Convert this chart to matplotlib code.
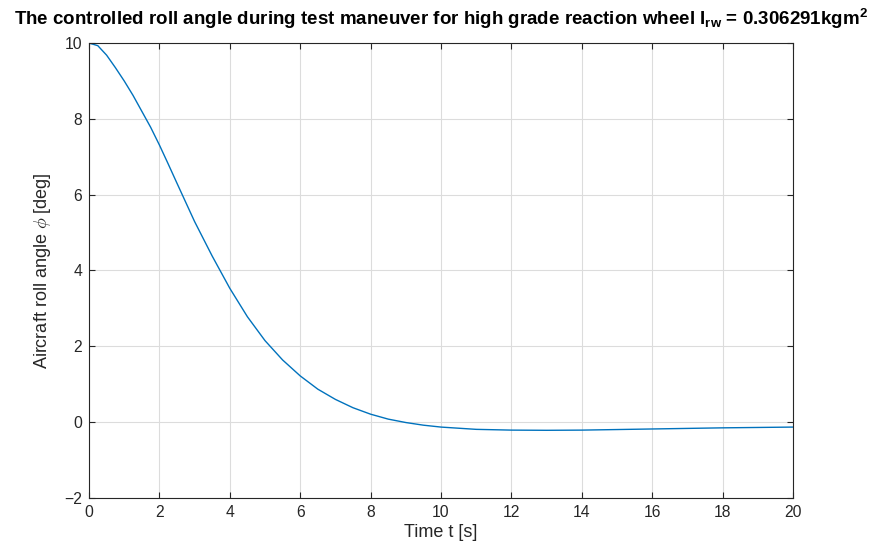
import matplotlib
matplotlib.use("Agg")
import matplotlib.pyplot as plt

plt.rcParams['font.family'] = ['Liberation Sans', 'DejaVu Sans']
plt.rcParams['mathtext.default'] = 'regular'

# Roll angle response (deg) sampled over time (s)
time_s = [0, 0.25, 0.5, 0.75, 1, 1.25, 1.5, 1.75, 2, 2.25, 2.5, 3, 3.5, 4,
          4.5, 5, 5.5, 6, 6.5, 7, 7.5, 8, 8.5, 9, 9.5, 10, 11, 12, 13, 14,
          15, 16, 17, 18, 19, 20]
roll_deg = [10.0, 9.93, 9.68, 9.35, 9.0, 8.62, 8.2, 7.78, 7.31, 6.81, 6.30,
            5.29, 4.38, 3.53, 2.78, 2.15, 1.64, 1.22, 0.87, 0.6, 0.38, 0.21,
            0.08, -0.01, -0.08, -0.13, -0.19, -0.21, -0.215, -0.21, -0.195,
            -0.18, -0.165, -0.15, -0.14, -0.13]

x_ticks = list(range(0, 21, 2))
y_ticks = list(range(-2, 11, 2))

fig = plt.figure(figsize=(8.76, 5.53), dpi=100)
ax = fig.add_axes([0.1016, 0.0995, 0.8037, 0.8227])

ax.plot(time_s, roll_deg, color='#0072BD', linewidth=1.0)

ax.set_xlim(0, 20)
ax.set_ylim(-2, 10)
ax.set_xticks(x_ticks)
ax.set_yticks(y_ticks)

axis_grey = '#262626'
ax.grid(True, color='#dcdcdc', linewidth=0.8)
ax.set_axisbelow(True)
for sp in ax.spines.values():
    sp.set_color(axis_grey)
    sp.set_linewidth(0.8)
ax.tick_params(direction='in', top=True, right=True, length=4, width=0.8,
               colors=axis_grey, labelsize=11.3, labelcolor=axis_grey, pad=5)

ax.set_xlabel('Time t [s]', fontsize=13, color=axis_grey, labelpad=3)
ax.set_ylabel(r'Aircraft roll angle $\mathit{\phi}$ [deg]', fontsize=13,
              color=axis_grey, labelpad=8, math_fontfamily='cm')

ax.set_title(r'The controlled roll angle during test maneuver for high grade reaction wheel I$_{rw}$ = 0.306291kgm$^{2}$',
             fontsize=13.5, fontweight='bold', color='black', pad=13)

fig.savefig('out.png', dpi=100)
